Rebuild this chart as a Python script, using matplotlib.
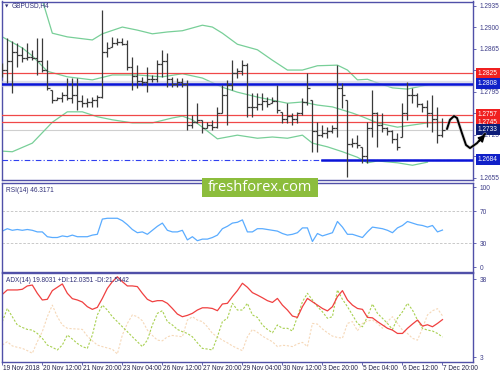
import numpy as np
import matplotlib
matplotlib.use('Agg')
import matplotlib.pyplot as plt
import matplotlib.transforms as mtrans
from matplotlib.patches import Rectangle

plt.rcParams['font.family'] = ['Liberation Sans', 'DejaVu Sans']

# ---- data (prices in pips, 1 pip = 0.0001) ----
high_p = [12841, 12882, 12877, 12874, 12867, 12874, 12863, 12882, 12882, 12846,
          12797, 12786, 12794, 12817, 12817, 12817, 12789, 12784, 12786, 12789,
          12928, 12876, 12884, 12882, 12882, 12879, 12851, 12838, 12819, 12835,
          12822, 12846, 12863, 12858, 12819, 12817, 12817, 12814, 12757, 12776,
          12749, 12745, 12749, 12770, 12806, 12814, 12846, 12833, 12846, 12841,
          12793, 12793, 12793, 12786, 12786, 12806, 12762, 12776, 12760, 12762,
          12784, 12825, 12781, 12745, 12740, 12737, 12740, 12838, 12809, 12781,
          12719, 12724, 12705, 12745, 12797, 12762, 12760, 12737, 12732, 12727,
          12776, 12810, 12801, 12793, 12776, 12781, 12789, 12770, 12752]
low_p = [12819, 12809, 12793, 12835, 12843, 12846, 12846, 12822, 12827, 12797,
         12776, 12781, 12778, 12781, 12776, 12765, 12770, 12770, 12770, 12770,
         12784, 12851, 12867, 12871, 12871, 12830, 12797, 12801, 12806, 12794,
         12810, 12810, 12819, 12802, 12802, 12802, 12802, 12732, 12736, 12744,
         12727, 12736, 12732, 12736, 12760, 12741, 12797, 12817, 12822, 12754,
         12754, 12765, 12765, 12770, 12776, 12760, 12744, 12744, 12740, 12744,
         12757, 12773, 12697, 12697, 12721, 12719, 12727, 12721, 12768, 12656,
         12705, 12703, 12679, 12679, 12721, 12705, 12729, 12724, 12711, 12700,
         12721, 12749, 12776, 12770, 12762, 12737, 12729, 12711, 12721]
close_p = [12830, 12845, 12860, 12855, 12850, 12852, 12850, 12845, 12830, 12800,
           12782, 12784, 12790, 12785, 12790, 12780, 12776, 12778, 12782, 12786,
           12860, 12866, 12874, 12876, 12872, 12835, 12820, 12812, 12810, 12815,
           12816, 12840, 12845, 12815, 12808, 12810, 12808, 12740, 12745, 12748,
           12735, 12740, 12738, 12760, 12790, 12805, 12825, 12828, 12838, 12770,
           12770, 12775, 12780, 12775, 12780, 12765, 12750, 12755, 12750, 12760,
           12778, 12800, 12730, 12725, 12728, 12730, 12735, 12800, 12790, 12710,
           12712, 12708, 12690, 12735, 12760, 12740, 12735, 12730, 12718, 12705,
           12760, 12790, 12790, 12775, 12770, 12760, 12750, 12725, 12733]

# bollinger bands read at sample bars
bb_up_i = [0, 4, 8, 10, 13, 18, 20, 24, 27, 30, 33, 36, 40, 42, 44, 47, 51, 54, 57, 60,
           63, 67, 69, 71, 73, 75, 78, 81, 85]
bb_up = [12985, 12964, 12944, 12890, 12884, 12879, 12889, 12900, 12895, 12889, 12892,
         12894, 12903, 12900, 12890, 12872, 12863, 12846, 12830, 12830, 12837, 12838,
         12830, 12814, 12815, 12809, 12801, 12799, 12806]
bb_mid_i = [0, 4, 6, 9, 13, 18, 22, 27, 32, 36, 40, 44, 47, 51, 54, 57, 60, 63, 66, 70,
            72, 75, 79, 85, 88]
bb_mid = [12884, 12866, 12853, 12828, 12819, 12814, 12822, 12822, 12819, 12824, 12817,
          12802, 12794, 12786, 12781, 12776, 12778, 12773, 12770, 12760, 12754, 12744,
          12737, 12744, 12745]
bb_lo_i = [0, 2, 6, 10, 13, 16, 19, 22, 26, 30, 34, 36, 38, 40, 43, 47, 51, 54, 57, 60,
           62, 65, 68, 71, 73, 75, 79, 82, 85]
bb_lo = [12698, 12697, 12711, 12745, 12762, 12762, 12754, 12749, 12744, 12744, 12752,
         12755, 12749, 12737, 12718, 12724, 12719, 12721, 12719, 12724, 12711, 12705,
         12697, 12688, 12679, 12682, 12679, 12675, 12680]

rsi = [45, 48, 46, 47, 46, 47, 46, 44, 44, 38,
       37, 37, 39, 38, 40, 38, 38, 38, 40, 41,
       60, 61, 61, 61, 58, 53, 47, 43, 44, 41,
       46, 51, 55, 46, 44, 44, 46, 34, 38, 33,
       35, 35, 37, 40, 48, 51, 55, 56, 59, 44,
       44, 48, 48, 47, 46, 45, 42, 40, 41, 43,
       49, 49, 32, 42, 39, 41, 43, 57, 50, 41,
       41, 39, 37, 44, 50, 49, 48, 46, 43, 49,
       52, 57, 55, 53, 52, 50, 52, 44, 46.3]

adx = [31.1, 33.1, 33.1, 33.1, 33.4, 34.9, 35.3, 31.6, 28.6, 28.9,
       32.8, 34.3, 35.8, 31.6, 29.2, 28.6, 27.7, 25.6, 24.4, 25.3,
       29.3, 33.8, 36.8, 39.0, 36.8, 34.9, 34.9, 34.6, 31.6, 28.9,
       27.8, 28.3, 28.3, 27.1, 24.8, 22.3, 21.1, 21.7, 22.6, 24.1,
       25.1, 25.1, 24.8, 23.8, 26.8, 27.1, 30.1, 32.8, 36.1, 34.3,
       31.9, 30.8, 29.6, 28.3, 27.5, 29.3, 26.3, 24.1, 21.4, 20.8,
       25.6, 29.3, 27.8, 26.3, 24.8, 23.7, 25.6, 30.1, 32.8, 28.6,
       26.3, 24.8, 24.4, 20.8, 20.6, 18.9, 17.4, 15.9, 15.1, 13.6,
       13.6, 15.9, 17.8, 19.6, 16.9, 17.5, 16.6, 18.1, 19.8]
plus_di = [18.9, 24.8, 21.1, 17.4, 16.3, 15.4, 15.1, 13.6, 11.4, 8.4,
           7.4, 6.2, 8.4, 12.9, 11.1, 9.1, 7.7, 6.9, 12.9, 21.9,
           26.3, 24.1, 21.1, 18.9, 16.6, 14.4, 12.1, 9.9, 7.7, 10.6,
           17.4, 22.6, 23.8, 18.9, 17.4, 15.4, 14.4, 13.6, 12.1, 9.4,
           6.9, 6.6, 6.2, 12.1, 18.9, 20.4, 27.1, 24.1, 24.1, 27.1,
           21.9, 20.8, 17.4, 15.4, 13.9, 17.4, 15.9, 15.9, 14.7, 21.1,
           27.8, 31.6, 28.6, 25.6, 23.3, 20.4, 21.1, 33.1, 28.9, 25.6,
           21.9, 18.1, 16.6, 21.1, 26.8, 22.6, 20.4, 18.1, 15.4, 20.4,
           23.3, 27.1, 24.1, 19.6, 15.9, 15.1, 14.7, 13.6, 12.0]
minus_di = [8.4, 9.9, 8.0, 7.4, 6.9, 5.9, 4.7, 9.9, 14.4, 21.1,
            26.3, 21.1, 17.4, 15.9, 15.7, 15.6, 15.4, 12.4, 10.3, 8.4,
            7.7, 7.1, 6.5, 4.4, 12.9, 18.1, 21.9, 21.1, 19.3, 15.1,
            12.7, 10.6, 10.3, 12.1, 12.7, 12.4, 12.1, 19.6, 21.1, 19.6,
            18.9, 16.6, 13.6, 12.1, 10.6, 9.4, 8.0, 6.9, 5.9, 12.1,
            15.4, 14.1, 12.4, 11.1, 9.9, 7.7, 8.3, 8.1, 7.7, 8.9,
            9.6, 7.7, 18.1, 17.8, 15.6, 13.9, 12.4, 11.8, 11.5, 18.1,
            18.9, 14.8, 18.1, 19.2, 19.6, 18.1, 15.9, 18.9, 21.1, 18.1,
            15.1, 13.6, 11.4, 10.6, 15.9, 21.9, 23.8, 24.7, 21.5]

# hand drawn projection (bar position, pips)
proj_x = [88.9, 89.5, 90.3, 90.9, 91.9, 92.7, 93.5, 94.9, 96.5]
proj_y = [12734, 12749, 12755, 12752, 12727, 12708, 12703, 12711, 12726]

date_labels = ['19 Nov 2018', '20 Nov 12:00', '21 Nov 20:00', '23 Nov 04:00',
               '26 Nov 12:00', '27 Nov 20:00', '29 Nov 04:00', '30 Nov 12:00',
               '3 Dec 20:00', '5 Dec 04:00', '6 Dec 12:00', '7 Dec 20:00']

# level lines
red_levels = [1.2825, 1.2757, 1.2745]
blue_top = 1.2808
blue_bottom = 1.2684
last_price = 1.2733

# ---- conversion ----
p = lambda a: np.array(a) / 1e4
high, low, close = p(high_p), p(low_p), p(close_p)
n = len(close)
x = np.arange(n)
open_ = np.clip(np.r_[close[0], close[:-1]], low, high)

spine_c = '#5050a8'
lab_c = '#3c3c88'
fs = 4.7

fig = plt.figure(figsize=(5, 3.75), dpi=100)
ax = fig.add_axes([0.004, 0.52, 0.942, 0.476])
ax_r = fig.add_axes([0.004, 0.2747, 0.942, 0.2373])
ax_a = fig.add_axes([0.004, 0.0347, 0.942, 0.2373])

for a in (ax, ax_r, ax_a):
    a.set_xlim(-0.06, 94.1)
    for s in a.spines.values():
        s.set_color(spine_c)
        s.set_linewidth(1.0)
    a.yaxis.tick_right()
    a.tick_params(axis='y', labelsize=fs, colors=spine_c, labelcolor=lab_c,
                  length=2, width=0.6, pad=2.5)
    a.tick_params(axis='x', bottom=False, labelbottom=False)

# ---- main price panel ----
ax.set_ylim(1.26510, 1.29416)
yt = np.arange(1.2655, 1.2940, 0.0035)
ax.set_yticks(yt)
# 1.2830 sits fully under the 1.2825 level box
ax.set_yticklabels(['' if abs(v - 1.2830) < 1e-6 else '%.4f' % v for v in yt])

bb_c = '#78cf98'
ax.plot(bb_up_i, p(bb_up), color=bb_c, lw=0.9, zorder=2)
ax.plot(bb_mid_i, p(bb_mid), color=bb_c, lw=0.9, zorder=2)
ax.plot(bb_lo_i, p(bb_lo), color=bb_c, lw=0.9, zorder=2)

ax.axhline(last_price, color='#cfcfcf', lw=0.8, zorder=1)
for lv in red_levels:
    ax.axhline(lv, color='#f04848', lw=0.9, zorder=3)
ax.axhline(blue_top, color='#c8c8dc', lw=4.5, alpha=0.6, zorder=3)
ax.axhline(blue_top, color='#0a14d8', lw=1.8, zorder=4)
ax.axhline(blue_bottom, color='#3040f0', lw=0.8, ls=(0, (5, 2, 1, 2)), zorder=3)
ax.plot([64, 94.1], [blue_bottom, blue_bottom], color='#0a14d8', lw=1.8, zorder=4)

bar_c = '#3a3a3a'
ax.vlines(x, low, high, color=bar_c, lw=0.9, zorder=5)
ax.hlines(open_, x - 0.45, x, color=bar_c, lw=0.9, zorder=5)
ax.hlines(close, x, x + 0.45, color=bar_c, lw=0.9, zorder=5)

ax.plot(proj_x, p(proj_y), color='#bbbbbb', lw=2.6, alpha=0.5,
        solid_capstyle='round', clip_on=False, zorder=8)
ax.plot(proj_x, p(proj_y), color='black', lw=1.4, solid_capstyle='round',
        clip_on=False, zorder=9)
ax.annotate('', xy=(proj_x[-1] + 0.4, p(proj_y)[-1] + 0.0001),
            xytext=(proj_x[-2], p(proj_y)[-2]),
            arrowprops=dict(arrowstyle='-|>,head_length=0.35,head_width=0.2',
                            color='black', lw=1.2), annotation_clip=False, zorder=9)

blend = mtrans.blended_transform_factory(ax.transAxes, ax.transData)
boxes = [(1.2825, '#f02020'), (1.2808, '#1020c8'), (1.2757, '#f02020'),
         (1.2745, '#f02020'), (1.2733, '#0c1c78'), (1.2684, '#1020c8')]
for val, fc in boxes:
    ax.text(1.01, val, '%.4f' % val, transform=blend, fontsize=fs, color='white',
            ha='left', va='center', clip_on=False, zorder=7,
            bbox=dict(boxstyle='square,pad=0.3', fc=fc, ec='none'))

fig.text(0.01, 1 - 6 / 375, '\u25bc', fontsize=3.2, color='#303078', va='center',
         family='DejaVu Sans')
fig.text(0.024, 1 - 6 / 375, 'GBPUSD,H4', fontsize=fs, color='#303078', va='center')

# ---- RSI panel ----
ax_r.set_ylim(-6, 105)
ax_r.set_yticks([0, 30, 70, 100])
for lv in (30, 70):
    ax_r.axhline(lv, color='#c0c0c0', lw=0.6, ls=(0, (3, 2)))
ax_r.plot(x, rsi, color='#5aacff', lw=0.9)
ax_r.text(0.008, 0.95, 'RSI(14) 46.3171', transform=ax_r.transAxes, fontsize=fs,
          color='#303078', va='top')

# ---- ADX panel ----
ax_a.set_ylim(0.8, 40.7)
ax_a.set_yticks([3, 38])
ax_a.plot(x, minus_di, color='#f6d8b8', lw=0.8, ls=(0, (2, 1.5)))
ax_a.plot(x, plus_di, color='#a8d050', lw=0.8, ls=(0, (2, 1.5)))
ax_a.plot(x, adx, color='#f04040', lw=0.9)
ax_a.text(0.008, 0.95, 'ADX(14) 19.8031 +DI:12.0351 -DI:21.5442',
          transform=ax_a.transAxes, fontsize=fs, color='#303078', va='top')

tick_i = np.arange(0, n, 8)
ax_a.set_xticks(tick_i)
ax_a.tick_params(axis='x', bottom=True, length=2.5, width=0.6, colors=spine_c)
date_tr = mtrans.blended_transform_factory(ax_a.transData, ax_a.transAxes)
for ti, lab in zip(tick_i, date_labels):
    ax_a.text(ti + 0.2, -0.035, lab, transform=date_tr, fontsize=fs,
              color='#202048', ha='left', va='top', clip_on=False)

# ---- watermark ----
fig.patches.append(Rectangle((202 / 500, 1 - 197 / 375), 116 / 500, 19 / 375,
                             transform=fig.transFigure, fc='#8cbd3c', ec='none',
                             zorder=20))
fig.text(260 / 500, 1 - 187.5 / 375, 'freshforex.com', fontsize=10.5,
         family='Open Sans', color='white', ha='center', va='center', zorder=21)

fig.savefig('out.png', dpi=100)
